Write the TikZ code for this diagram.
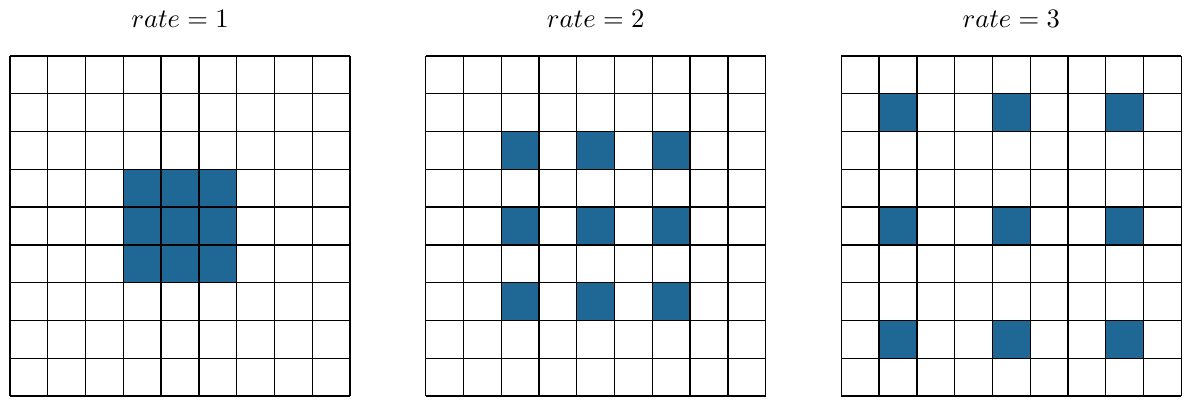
\documentclass[tikz,border=0pt]{standalone}
\usepackage{amssymb}
\usepackage{tikz}
\usetikzlibrary{calc}
\definecolor{cellblue}{RGB}{31,104,150}
\begin{document}
\begin{tikzpicture}[x=.5cm,y=.5cm,line width=.5pt]
\useasboundingbox(-.265,-.24)rectangle(31.07,10.48);
\foreach\r/\ox in{1/0,2/11,3/22}{
\node[anchor=base](rate\r)at(\ox+4.5,9.74){$rate=\r$};
\foreach\i in{-1,0,1}\foreach\j in{-1,0,1}\fill[cellblue](\ox+4+\i*\r,4+\j*\r)rectangle++(1,1);
\draw[step=.5cm](\ox,0)grid(\ox+9,9);
}
\end{tikzpicture}
\end{document}
